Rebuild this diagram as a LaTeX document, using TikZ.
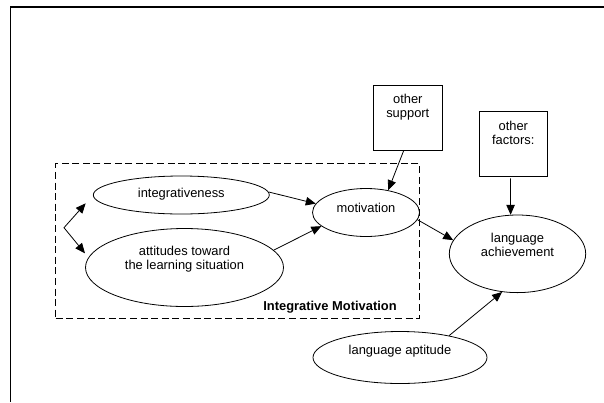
\documentclass[tikz,border=0pt]{standalone}
\usepackage{fontspec}
\setmainfont{Liberation Sans}
\usetikzlibrary{arrows.meta,shapes.geometric,calc}
\begin{document}
\begin{tikzpicture}[x=1pt,y=-1pt,
  oval/.style={draw, ellipse, line width=0.8pt, inner sep=0pt},
  boxnode/.style={draw, rectangle, line width=0.8pt, inner sep=0pt},
  groupbox/.style={draw, rectangle, line width=1.1pt, dash pattern=on 7pt off 3.6pt, inner sep=0pt},
  txt/.style={font=\fontsize{12.9}{14.4}\selectfont, align=center, inner sep=0pt},
  tip/.style={Triangle[length=10pt,width=8.5pt]},
  arr/.style={-{Triangle[length=10pt,width=8.5pt]}, line width=0.8pt},
  frame/.style={line width=1.2pt},
]
\useasboundingbox (0,0) rectangle (604,402);
% outer frame (top and left sides only)
\coordinate (fTR) at (604,7);
\coordinate (fTL) at (10.3,7);
\coordinate (fBL) at (10.3,402);
\draw[frame] (fTR) -- (fTL) -- (fBL);

% dashed group
\node[groupbox, minimum width=363.6pt, minimum height=154.8pt] (group) at (237.5,240.9) {};
\node[txt, font=\fontsize{12.9}{14.4}\selectfont\bfseries] (grouplabel) at (330,306.7) {Integrative Motivation};

% ellipses
\node[oval, minimum width=176pt, minimum height=38pt] (integ) at (181.3,195) {};
\node[txt] (integT) at (181.3,194.5) {integrativeness};
\node[oval, minimum width=198pt, minimum height=78pt] (att) at (184.5,267.5) {};
\node[txt] (attT) at (184.5,259.3) {attitudes toward\\the learning situation};
\node[oval, minimum width=107pt, minimum height=48pt] (motiv) at (366,212.5) {};
\node[txt] (motivT) at (366,208) {motivation};
\node[oval, minimum width=136.4pt, minimum height=77.6pt] (ach) at (517.5,253.8) {};
\node[txt] (achT) at (517.5,245) {language\\achievement};
\node[oval, minimum width=174pt, minimum height=52pt] (apt) at (400,357.5) {};
\node[txt] (aptT) at (400,351.3) {language aptitude};

% boxes
\node[boxnode, minimum width=69pt, minimum height=65pt] (support) at (407.8,117.5) {};
\node[txt] (supportT) at (407.8,107.2) {other\\support};
\node[boxnode, minimum width=68pt, minimum height=65pt] (factors) at (513.3,143.5) {};
\node[txt] (factorsT) at (513.3,133) {other\\factors:};

% bracket with two arrows
\coordinate (brk) at (64,227.7);
\coordinate (tA) at (85.7,203.3);
\coordinate (tB) at (85,253.3);
\draw[line width=0.8pt, {Triangle[length=10pt,width=8.5pt]}-{Triangle[length=10pt,width=8.5pt]}] (tA) -- (brk) -- (tB);

% connectors
\draw[arr] (integ.2) -- (motiv.170);
\draw[arr] (att.11) -- (motiv.197);
\draw[arr] (support.263) -- (motiv.45);
\draw[arr] (motiv.-8) -- (ach.168);
\draw[arr] ([yshift=-2pt]factors.265) -- (ach.100);
\draw[arr] (apt.24.5) -- (ach.248);
\end{tikzpicture}
\end{document}
